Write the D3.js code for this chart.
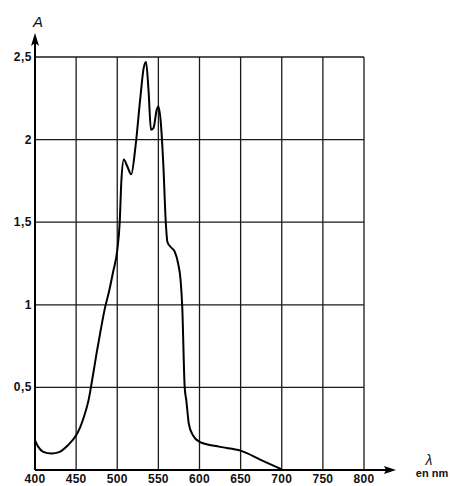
<!DOCTYPE html>
<html>
<head>
<meta charset="utf-8">
<script src="https://cdn.jsdelivr.net/npm/d3@7"></script>
<style>
  body { margin: 0; background: #fff; }
  svg { display: block; }
  text { font-family: "Liberation Sans", Arial, sans-serif; fill: #111; }
</style>
</head>
<body>
<svg id="chart" width="450" height="486"></svg>
<script>
// spectre d'absorption
var lambda = [400, 404, 410, 420, 430, 440, 450, 455, 460, 465, 470, 475, 480, 485, 490, 495, 500, 503, 505, 508,
              512, 517, 522, 528, 532, 535, 538, 541, 544, 548, 550, 553, 556, 559, 561, 565, 570, 574, 577, 579, 582,
              584, 587, 592, 600, 625, 650, 675, 700];
var absorb = [0.18, 0.14, 0.11, 0.10, 0.11, 0.15, 0.21, 0.26, 0.33, 0.42, 0.56, 0.71, 0.85, 0.98, 1.08, 1.2, 1.33, 1.5, 1.75, 1.88,
              1.84, 1.79, 1.95, 2.25, 2.43, 2.47, 2.3, 2.06, 2.07, 2.18, 2.2, 2.1, 1.85, 1.5, 1.38, 1.35, 1.32, 1.25, 1.15, 0.99, 0.5,
              0.42, 0.28, 0.21, 0.17, 0.14, 0.117, 0.06, 0.004];

var xTicks = [400, 450, 500, 550, 600, 650, 700, 750, 800];
var yTicks = [0.5, 1, 1.5, 2, 2.5];
var yTickLabels = ["0,5", "1", "1,5", "2", "2,5"];

var svg = d3.select("#chart");

var x = d3.scaleLinear().domain([400, 800]).range([35, 364]);
var y = d3.scaleLinear().domain([0, 2.5]).range([470, 57]);

// grille
var grid = svg.append("g").attr("stroke", "#1a1a1a").attr("stroke-width", 1.3);
grid.selectAll("line.v")
  .data(xTicks.slice(1))
  .enter().append("line")
  .attr("class", "v")
  .attr("x1", function(d){ return x(d); })
  .attr("x2", function(d){ return x(d); })
  .attr("y1", y(0))
  .attr("y2", y(2.5));
grid.selectAll("line.h")
  .data(yTicks)
  .enter().append("line")
  .attr("class", "h")
  .attr("x1", x(400))
  .attr("x2", x(800))
  .attr("y1", function(d){ return y(d); })
  .attr("y2", function(d){ return y(d); });

// axes avec flèches
var axes = svg.append("g").attr("stroke", "#000").attr("stroke-width", 2);
axes.append("line").attr("x1", x(400)).attr("x2", 388).attr("y1", y(0)).attr("y2", y(0));
axes.append("line").attr("x1", x(400)).attr("x2", x(400)).attr("y1", y(0)).attr("y2", 42);
svg.append("path")
  .attr("d", "M396," + y(0) + " L384," + (y(0) - 4) + " L386," + y(0) + " L384," + (y(0) + 4) + "Z")
  .attr("fill", "#000");
svg.append("path")
  .attr("d", "M" + x(400) + ",33 L" + (x(400) - 4) + ",46 L" + x(400) + ",43 L" + (x(400) + 4) + ",46Z")
  .attr("fill", "#000");

// étiquettes
svg.selectAll("text.xt")
  .data(xTicks)
  .enter().append("text")
  .attr("class", "xt")
  .attr("x", function(d){ return x(d); })
  .attr("y", 483)
  .attr("text-anchor", "middle")
  .attr("font-size", 12)
  .attr("font-weight", "bold")
  .attr("letter-spacing", 0.3)
  .text(function(d){ return d; });

svg.selectAll("text.yt")
  .data(yTicks)
  .enter().append("text")
  .attr("class", "yt")
  .attr("x", 32)
  .attr("y", function(d){ return y(d) + 4; })
  .attr("text-anchor", "end")
  .attr("font-size", 12)
  .attr("font-weight", "bold")
  .attr("letter-spacing", 0.5)
  .text(function(d, i){ return yTickLabels[i]; });

svg.append("text").attr("x", 33).attr("y", 27)
  .attr("font-size", 15).attr("font-style", "italic").text("A");
svg.append("text").attr("x", 429).attr("y", 465)
  .attr("text-anchor", "middle").attr("font-size", 14).attr("font-style", "italic").text("λ");
svg.append("text").attr("x", 432).attr("y", 477)
  .attr("text-anchor", "middle").attr("font-size", 11).attr("font-weight", "bold").text("en nm");

// courbe
var line = d3.line()
  .x(function(d){ return x(d[0]); })
  .y(function(d){ return y(d[1]); })
  .curve(d3.curveMonotoneX);

svg.append("path")
  .datum(d3.zip(lambda, absorb))
  .attr("fill", "none")
  .attr("stroke", "#000")
  .attr("stroke-width", 2)
  .attr("stroke-linejoin", "round")
  .attr("d", line);
</script>
</body>
</html>
